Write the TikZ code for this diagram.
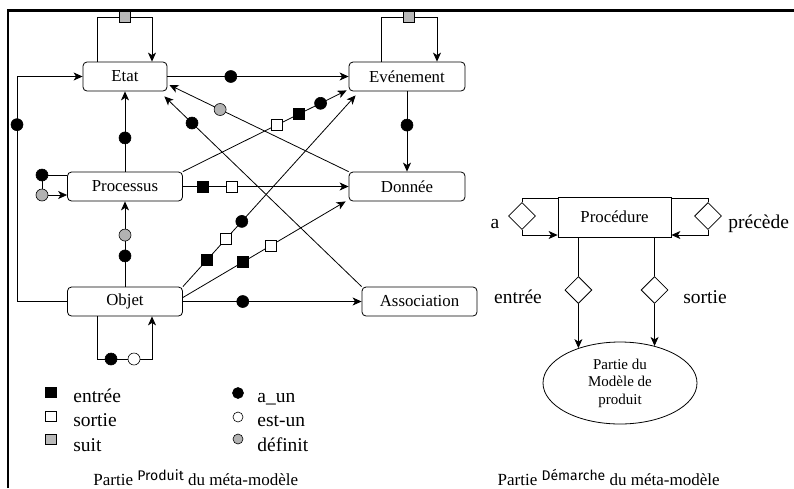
\documentclass[tikz,border=0pt]{standalone}
\usepackage{fontspec}
\setmainfont{Liberation Serif}
\newfontfamily\serifx{Liberation Serif}
\newfontfamily\fancyfont{Fira Sans}
\usetikzlibrary{arrows.meta,shapes.geometric,calc}
\begin{document}
\begin{tikzpicture}[x=1pt,y=-1pt,
  line width=0.8pt,
  arr/.style={-{Stealth[length=9pt,width=8pt,inset=2.5pt]}},
  ent/.style={draw,rounded corners=4pt,minimum height=29pt,inner sep=0pt,font=\serifx\fontsize{16.8}{19}\selectfont,fill=white},
  bsq/.style={draw,fill=black,rectangle,minimum size=11pt,inner sep=0pt,line width=0.6pt},
  wsq/.style={bsq,fill=white},
  gsq/.style={bsq,fill=gray!55},
  bdot/.style={draw,fill=black,circle,minimum size=12pt,inner sep=0pt,line width=0.6pt},
  wdot/.style={bdot,fill=white},
  gdot/.style={bdot,fill=gray!60},
  dia/.style={draw,diamond,fill=white,minimum size=27pt,inner sep=0pt},
  lab/.style={inner sep=0pt,font=\serifx\fontsize{19.5}{22}\selectfont},
  captxt/.style={inner sep=0pt,font=\serifx\fontsize{17}{20}\selectfont},
]
\useasboundingbox (0,0) rectangle (794,488);
% frame
\draw[line width=2.2pt] (8,488) -- (8,10.5) -- (794,10.5);

% entity boxes
\node[ent,minimum width=84pt] (etat) at (125,76.5) {Etat};
\node[ent,minimum width=116pt] (evt) at (407,76.5) {Evénement};
\node[ent,minimum width=115pt] (pro) at (125,186.5) {Processus};
\node[ent,minimum width=116pt] (don) at (407,186.5) {Donnée};
\node[ent,minimum width=115pt] (obj) at (125,301.5) {Objet};
\node[ent,minimum width=115pt] (ass) at (419.5,301.5) {Association};

% helper coordinates
\coordinate (e1) at (97,17); \coordinate (e2) at (152,17);
\coordinate (v1) at (381,17); \coordinate (v2) at (437,17);
\coordinate (o1) at (97,359); \coordinate (o2) at (152,359);
\coordinate (p1) at (42,175); \coordinate (p2) at (42,195);
\coordinate (lc1) at (17,301.5); \coordinate (lc2) at (17,76.5);

% self loops
\draw[arr] (etat.north -| e1) -- (e1) -- node[gsq]{} (e2) -- (etat.north -| e2);
\draw[arr] (evt.north -| v1) -- (v1) -- node[gsq]{} (v2) -- (evt.north -| v2);
\draw[arr] (obj.south -| o1) -- (o1) -- node[bdot,pos=0.255]{} node[wdot,pos=0.673]{} (o2) -- (obj.south -| o2);
\draw[arr] (pro.west |- p1) -- (p1) -- (p2) -- (pro.west |- p2);
\node[bdot] (pd1) at (p1) {};
\node[gdot] (pd2) at (p2) {};

% left path Objet -> Etat
\draw[arr] (obj.west) -- (lc1) -- node[bdot,pos=0.786]{} (lc2) -- (etat.west);

% straight connectors
\draw[arr] (etat.east) -- node[bdot,pos=0.35]{} (evt.west);
\draw[arr] (pro.north) -- node[bdot,pos=0.42]{} (etat.south);
\draw[arr] (evt.south) -- node[bdot,pos=0.42]{} (don.north);
\draw[arr] (obj.north) -- node[bdot,pos=0.36]{} node[gdot,pos=0.605]{} (pro.south);
\draw[arr] (pro.east) -- node[bsq,pos=0.12]{} node[wsq,pos=0.295]{} (don.west);
\draw[arr] (obj.east) -- node[bdot,pos=0.335]{} (ass.west);

% diagonals
\draw[arr] (ass.north west) -- node[bdot,pos=0.86]{} ($(etat.south east)+(-3,5)$);
\draw[arr] (don.north west) -- node[gdot,pos=0.717]{} ($(etat.east)+(2,8.5)$);
\draw[arr] (pro.north east) -- node[wsq,pos=0.573]{} node[bsq,pos=0.707]{} node[bdot,pos=0.841]{} ($(evt.south west)+(-2,-1)$);
\draw[arr] (obj.north east) -- node[bsq,pos=0.139]{} node[wsq,pos=0.249]{} node[bdot,pos=0.341]{} ($(evt.south west)+(7,4)$);
\draw[arr] ($(obj.east)+(0,-4)$) -- node[bsq,pos=0.368]{} node[wsq,pos=0.54]{} ($(don.south west)+(-3,0)$);

% legend
\node[bsq,minimum width=11pt,minimum height=10pt] (k1) at (50.5,392) {};
\node[wsq,minimum width=11pt,minimum height=10pt] (k2) at (50.5,416) {};
\node[gsq,minimum width=11pt,minimum height=10pt] (k3) at (50.5,439.5) {};
\node[lab,anchor=base west] (k1t) at (73,402.7) {entrée};
\node[lab,anchor=base west] (k2t) at (73,426.7) {sortie};
\node[lab,anchor=base west] (k3t) at (73,451) {suit};
\node[bdot,minimum size=11pt] (k4) at (238,393) {};
\node[wdot,minimum size=10pt] (k5) at (238,417) {};
\node[gdot,minimum size=10pt] (k6) at (238,439) {};
\node[lab,anchor=base west] (k4t) at (257,402.7) {a\_un};
\node[lab,anchor=base west] (k5t) at (257,426.7) {est-un};
\node[lab,anchor=base west] (k6t) at (257,451) {définit};

% Demarche part
\node[draw,fill=white,minimum width=113pt,minimum height=40pt,inner sep=0pt,font=\serifx\fontsize{16.8}{19}\selectfont] (proc) at (614.5,217) {Procédure};
\node[draw,ellipse,minimum width=154pt,minimum height=82pt,inner sep=0pt,align=center,font=\serifx\fontsize{15}{17.5}\selectfont] (ell) at (620,383) {Partie du\\Modèle de\\produit};
\coordinate (ya) at (0,198); \coordinate (yb) at (0,235); \coordinate (yc) at (0,290);
\node[dia] (da) at (522,216) {};
\node[dia] (dp) at (708,216) {};
\node[dia] (de) at (ell.140.68 |- yc) {};
\node[dia] (ds) at (ell.47.27 |- yc) {};
\draw (proc.west |- ya) -| (da.north);
\draw[arr] (da.south) |- (proc.west |- yb);
\draw (proc.east |- ya) -| (dp.north);
\draw[arr] (dp.south) |- (proc.east |- yb);
\draw (proc.south -| de) -- (de.north);
\draw[arr] (de.south) -- (ell.140.68);
\draw (proc.south -| ds) -- (ds.north);
\draw[arr] (ds.south) -- (ell.47.27);
\node[lab,anchor=base] (la) at (495,228) {a};
\node[lab,anchor=base west] (lp) at (728,228) {précède};
\node[lab,anchor=base] (le) at (518,303) {entrée};
\node[lab,anchor=base] (ls) at (705,303) {sortie};

% captions
\node[captxt,anchor=base west] (c1) at (93,485) {Partie \raisebox{5pt}{\fancyfont\fontsize{14}{16}\selectfont Produit} du méta-modèle};
\node[captxt,anchor=base east] (c2) at (720,485) {Partie \raisebox{5pt}{\fancyfont\fontsize{14}{16}\selectfont Démarche} du méta-modèle};
\end{tikzpicture}
\end{document}
